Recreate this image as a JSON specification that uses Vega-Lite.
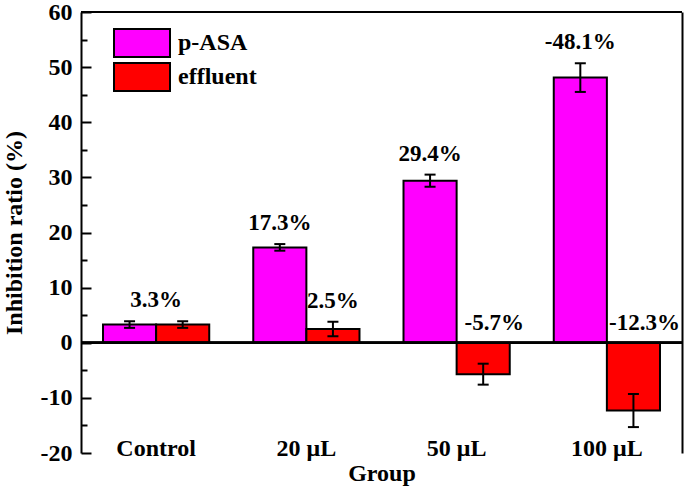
{
  "$schema": "https://vega.github.io/schema/vega-lite/v6.json",
  "width": 601,
  "height": 441,
  "autosize": {"type": "none"},
  "padding": {"left": 81, "top": 12, "right": 3, "bottom": 36},
  "background": "white",
  "config": {
    "font": "Liberation Serif",
    "view": {"stroke": null},
    "axis": {
      "labelFont": "Liberation Serif",
      "titleFont": "Liberation Serif",
      "labelFontWeight": "bold",
      "titleFontWeight": "bold",
      "labelColor": "black",
      "titleColor": "black",
      "domainColor": "black",
      "tickColor": "black",
      "grid": false
    }
  },
  "data": {
    "values": [
      {"group": "Control", "series": "p-ASA", "value": 3.3, "err": 0.6, "lab": "3.3%"},
      {"group": "Control", "series": "effluent", "value": 3.3, "err": 0.6, "lab": ""},
      {"group": "20 μL", "series": "p-ASA", "value": 17.3, "err": 0.6, "lab": "17.3%"},
      {"group": "20 μL", "series": "effluent", "value": 2.5, "err": 1.3, "lab": "2.5%"},
      {"group": "50 μL", "series": "p-ASA", "value": 29.4, "err": 1.1, "lab": "29.4%"},
      {"group": "50 μL", "series": "effluent", "value": -5.7, "err": 1.9, "lab": "-5.7%"},
      {"group": "100 μL", "series": "p-ASA", "value": 48.1, "err": 2.6, "lab": "-48.1%"},
      {"group": "100 μL", "series": "effluent", "value": -12.3, "err": 3.0, "lab": "-12.3%"}
    ]
  },
  "transform": [
    {"calculate": "datum.value - datum.err", "as": "lo"},
    {"calculate": "datum.value + datum.err", "as": "hi"}
  ],
  "layer": [
    {
      "mark": {"type": "bar", "stroke": "black", "strokeWidth": 2},
      "encoding": {
        "x": {
          "field": "group", "type": "nominal", "sort": null,
          "scale": {"paddingInner": 0.293, "paddingOuter": 0.1465},
          "axis": {
            "orient": "bottom", "labelAngle": 0, "labelFontSize": 24, "labelBaseline": "alphabetic",
            "labelPadding": 2, "ticks": false, "domain": false,
            "title": "Group", "titleFontSize": 24, "titleY": 27, "titleBaseline": "alphabetic"
          }
        },
        "xOffset": {"field": "series", "type": "nominal", "sort": ["p-ASA", "effluent"], "scale": {"paddingInner": 0, "paddingOuter": 0}},
        "y": {
          "field": "value", "type": "quantitative",
          "scale": {"domain": [-20, 60], "nice": false, "zero": false},
          "axis": {
            "orient": "left", "values": [-20, -10, 0, 10, 20, 30, 40, 50, 60],
            "labelExpr": "replace(datum.label, '\u2212', '-')",
            "tickSize": -10, "tickWidth": 2, "domainWidth": 2, "labelFontSize": 24, "labelPadding": 19,
            "labelBaseline": "middle",
            "title": "Inhibition ratio (%)", "titleFontSize": 24, "titleX": -60, "titleBaseline": "alphabetic", "titleAngle": 270
          }
        },
        "color": {
          "field": "series", "type": "nominal",
          "scale": {"domain": ["p-ASA", "effluent"], "range": ["#FF00FF", "#FF0000"]},
          "legend": {
            "title": null, "orient": "none", "legendX": 46, "legendY": 16, "padding": 0,
            "symbolType": "M-2,-1H2V1H-2Z", "symbolSize": 784,
            "symbolStrokeColor": "black", "symbolStrokeWidth": 2, "symbolOpacity": 1,
            "labelFont": "Liberation Serif", "labelFontSize": 24, "labelFontWeight": "bold", "labelColor": "black",
            "rowPadding": -2, "labelOffset": 21
          }
        }
      }
    },
    {
      "mark": {"type": "rule", "strokeWidth": 2, "color": "black"},
      "encoding": {
        "x": {"field": "group", "type": "nominal", "sort": null},
        "xOffset": {"field": "series", "type": "nominal", "sort": ["p-ASA", "effluent"]},
        "y": {
          "field": "lo", "type": "quantitative",
          "scale": {"domain": [-20, 60], "nice": false, "zero": false},
          "axis": {
            "orient": "left", "values": [-15, -5, 5, 15, 25, 35, 45, 55],
            "tickSize": -6, "tickWidth": 2, "labels": false, "domain": false, "title": null
          }
        },
        "y2": {"field": "hi"}
      }
    },
    {
      "mark": {"type": "tick", "thickness": 2, "size": 11, "color": "black", "opacity": 1},
      "encoding": {
        "x": {"field": "group", "type": "nominal", "sort": null},
        "xOffset": {"field": "series", "type": "nominal", "sort": ["p-ASA", "effluent"]},
        "y": {"field": "hi", "type": "quantitative", "axis": null}
      }
    },
    {
      "mark": {"type": "tick", "thickness": 2, "size": 11, "color": "black", "opacity": 1},
      "encoding": {
        "x": {"field": "group", "type": "nominal", "sort": null},
        "xOffset": {"field": "series", "type": "nominal", "sort": ["p-ASA", "effluent"]},
        "y": {"field": "lo", "type": "quantitative", "axis": null}
      }
    },
    {
      "transform": [{"filter": "datum.group == 'Control' && datum.series == 'p-ASA'"}],
      "mark": {"type": "text", "font": "Liberation Serif", "fontWeight": "bold", "fontSize": 23, "baseline": "alphabetic", "dy": -14, "color": "black"},
      "encoding": {
        "x": {"field": "group", "type": "nominal", "sort": null},
        "y": {"field": "hi", "type": "quantitative", "axis": null},
        "text": {"field": "lab"}
      }
    },
    {
      "transform": [{"filter": "datum.group != 'Control' && datum.value > 0"}],
      "mark": {"type": "text", "font": "Liberation Serif", "fontWeight": "bold", "fontSize": 23, "baseline": "alphabetic", "dy": -14, "color": "black"},
      "encoding": {
        "x": {"field": "group", "type": "nominal", "sort": null},
        "xOffset": {"field": "series", "type": "nominal", "sort": ["p-ASA", "effluent"]},
        "y": {"field": "hi", "type": "quantitative", "axis": null},
        "text": {"field": "lab"}
      }
    },
    {
      "transform": [{"filter": "datum.value < 0"}],
      "mark": {"type": "text", "font": "Liberation Serif", "fontWeight": "bold", "fontSize": 23, "baseline": "alphabetic", "dy": -12.5, "dx": 11, "color": "black"},
      "encoding": {
        "x": {"field": "group", "type": "nominal", "sort": null},
        "xOffset": {"field": "series", "type": "nominal", "sort": ["p-ASA", "effluent"]},
        "y": {"datum": 0, "type": "quantitative", "axis": null},
        "text": {"field": "lab"}
      }
    },
    {
      "mark": {"type": "rule", "strokeWidth": 2, "color": "black"},
      "encoding": {
        "y": {"datum": 0, "type": "quantitative", "axis": null}
      }
    },
    {
      "mark": {"type": "rule", "strokeWidth": 2, "color": "black"},
      "encoding": {
        "y": {
          "datum": 60, "type": "quantitative",
          "axis": {"orient": "right", "labels": false, "ticks": false, "title": null, "domainWidth": 2, "values": [60]}
        }
      }
    }
  ],
  "resolve": {"axis": {"y": "independent"}}
}
